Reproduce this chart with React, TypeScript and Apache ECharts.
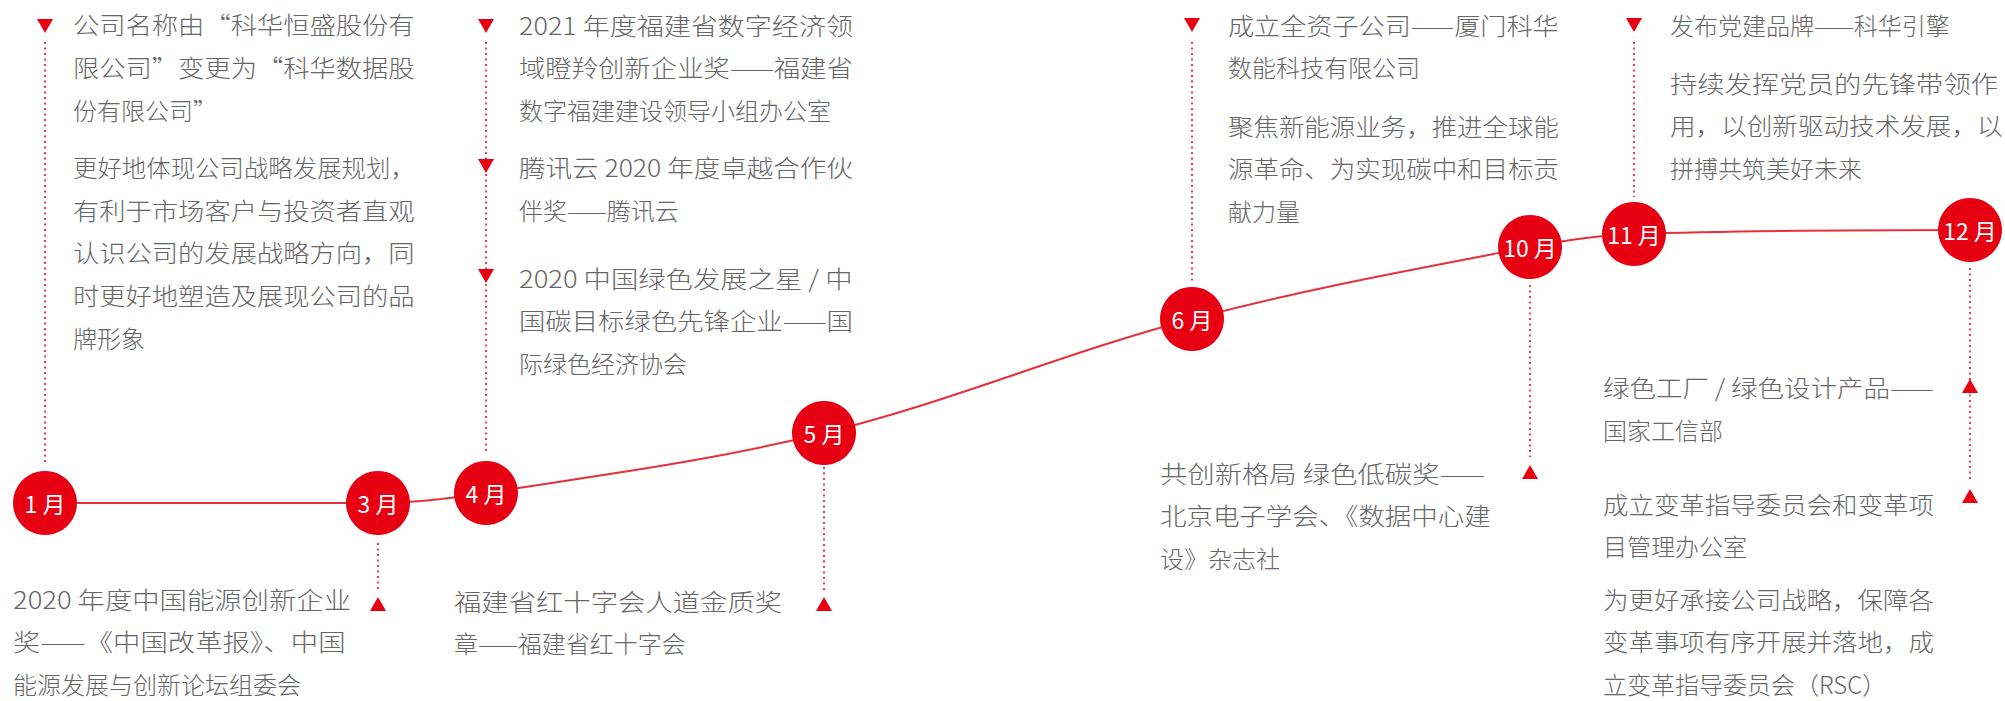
import React, { useEffect, useRef } from "react";
import * as echarts from "echarts";

// Timeline months and their positions on the curve
const months = ["1 月", "3 月", "4 月", "5 月", "6 月", "10 月", "11 月", "12 月"];
const monthX = [45, 378, 486, 824, 1192, 1530, 1634, 1970];
const monthY = [503, 503, 493, 433, 319, 247, 234, 230];

// Dotted connector stems
const stemX = [45, 486, 1192, 1634, 378, 824, 1530, 1970];
const stemTop = [42, 42, 42, 42, 543, 467, 285, 268];
const stemBottom = [465, 452, 283, 197, 590, 592, 457, 482];

// Event markers (triangles)
const downTriX = [45, 486, 486, 486, 1192, 1634];
const downTriY = [26, 26, 166, 276, 25, 25];
const upTriX = [378, 824, 1530, 1970, 1970];
const upTriY = [604, 604, 472, 386, 496];

// Event texts
const jan1 = ["公司名称由“科华恒盛股份有", "限公司”变更为“科华数据股", "份有限公司”"];
const jan2 = ["更好地体现公司战略发展规划，", "有利于市场客户与投资者直观", "认识公司的发展战略方向，同", "时更好地塑造及展现公司的品", "牌形象"];
const apr1 = ["2021 年度福建省数字经济领", "域瞪羚创新企业奖——福建省", "数字福建建设领导小组办公室"];
const apr2 = ["腾讯云 2020 年度卓越合作伙", "伴奖——腾讯云"];
const apr3 = ["2020 中国绿色发展之星 / 中", "国碳目标绿色先锋企业——国", "际绿色经济协会"];
const jun1 = ["成立全资子公司——厦门科华", "数能科技有限公司"];
const jun2 = ["聚焦新能源业务，推进全球能", "源革命、为实现碳中和目标贡", "献力量"];
const nov1 = ["发布党建品牌——科华引擎"];
const nov2 = ["持续发挥党员的先锋带领作", "用，以创新驱动技术发展，以", "拼搏共筑美好未来"];
const mar1 = ["2020 年度中国能源创新企业", "奖——《中国改革报》、中国", "能源发展与创新论坛组委会"];
const may1 = ["福建省红十字会人道金质奖", "章——福建省红十字会"];
const oct1 = ["共创新格局 绿色低碳奖——", "北京电子学会、《数据中心建", "设》杂志社"];
const dec1 = ["绿色工厂 / 绿色设计产品——", "国家工信部"];
const dec2 = ["成立变革指导委员会和变革项", "目管理办公室"];
const dec3 = ["为更好承接公司战略，保障各", "变革事项有序开展并落地，成", "立变革指导委员会（RSC）"];

const FONT = '"Noto Sans CJK SC", "Noto Sans", sans-serif';
const FONT_SIZE = 24;
const LINE_H = 42.5;

// layout of paragraphs: [lines, left x, first line center y, justified width]
const paragraphs: [string[], number, number, number][] = [
  [jan1, 73, 24, 342],
  [jan2, 73, 167, 342],
  [apr1, 519, 24, 334],
  [apr2, 519, 167, 334],
  [apr3, 519, 277, 334],
  [jun1, 1228, 24, 331],
  [jun2, 1228, 125, 331],
  [nov1, 1670, 24, 333],
  [nov2, 1670, 82, 333],
  [mar1, 13, 598, 342],
  [may1, 454, 600, 336],
  [oct1, 1160, 472, 331],
  [dec1, 1603, 387, 331],
  [dec2, 1603, 503, 331],
  [dec3, 1603, 598, 331],
];

export default function App() {
  const ref = useRef<HTMLDivElement>(null);
  useEffect(() => {
    document.body.style.margin = "0";
    const chart = echarts.init(ref.current!, null, { renderer: "svg" });
    const ctx = document.createElement("canvas").getContext("2d")!;
    ctx.font = `300 ${FONT_SIZE}px ${FONT}`;
    const texts: any[] = [];
    paragraphs.forEach(([lines, x, y0, w]) => {
      lines.forEach((t, i) => {
        const natural = ctx.measureText(t).width || 1;
        const justify = i < lines.length - 1;
        const sx = justify ? Math.min(1.14, Math.max(0.95, w / natural)) : 1;
        texts.push({
          type: "text",
          x,
          y: y0 + i * LINE_H,
          scaleX: sx,
          silent: true,
          style: {
            text: t,
            fill: "#666666",
            fontSize: FONT_SIZE,
            fontWeight: 300,
            fontFamily: FONT,
            align: "left",
            verticalAlign: "middle",
          },
        });
      });
    });
    chart.setOption({
      animation: false,
      grid: { left: 0, right: 0, top: 0, bottom: 0 },
      xAxis: { type: "value", min: 0, max: 2005, show: false },
      yAxis: { type: "value", min: 0, max: 701, inverse: true, show: false },
      series: [
        {
          type: "lines",
          coordinateSystem: "cartesian2d",
          silent: true,
          z: 1,
          data: stemX.map((x, i) => ({ coords: [[x, stemTop[i]], [x, stemBottom[i]]] })),
          lineStyle: { color: "#ee3a46", width: 2, type: [2, 3.5], opacity: 1 },
        },
        {
          type: "line",
          z: 2,
          silent: true,
          data: monthX.map((x, i) => [x, monthY[i]]),
          smooth: 0.35,
          symbol: "none",
          lineStyle: { color: "#e8303c", width: 2 },
        },
        {
          type: "scatter",
          z: 3,
          data: monthX.map((x, i) => [x, monthY[i]]),
          symbolSize: 64,
          itemStyle: { color: "#e60012", opacity: 1 },
          label: {
            show: true,
            position: "inside",
            formatter: (p: any) => months[p.dataIndex],
            color: "#ffffff",
            fontSize: 23,
            fontFamily: FONT,
          },
        },
        {
          type: "scatter",
          z: 3,
          data: downTriX.map((x, i) => [x, downTriY[i]]),
          symbol: "triangle",
          symbolRotate: 180,
          symbolSize: [16, 14],
          itemStyle: { color: "#e60012", opacity: 1 },
        },
        {
          type: "scatter",
          z: 3,
          data: upTriX.map((x, i) => [x, upTriY[i]]),
          symbol: "triangle",
          symbolSize: [16, 14],
          itemStyle: { color: "#e60012", opacity: 1 },
        },
      ],
      graphic: texts,
    });
    return () => chart.dispose();
  }, []);
  return <div ref={ref} style={{ width: 2005, height: 701 }} />;
}
